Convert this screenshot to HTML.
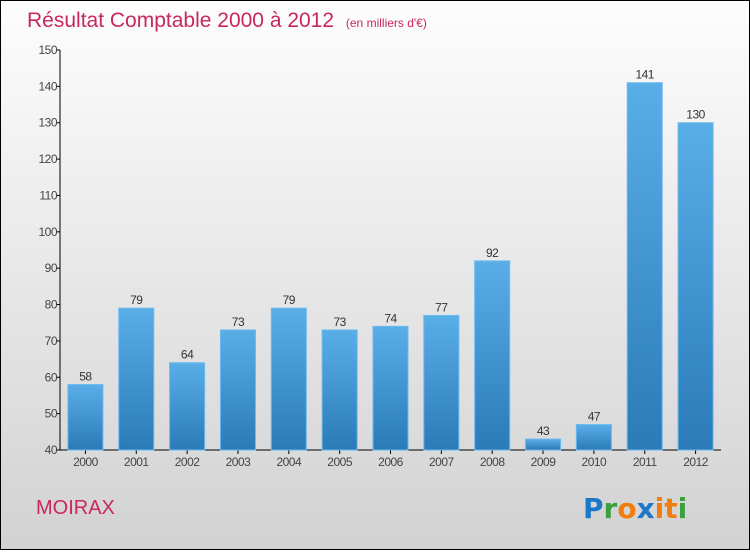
<!DOCTYPE html>
<html><head><meta charset="utf-8"><style>
body{margin:0;width:750px;height:550px;overflow:hidden;font-family:"Liberation Sans",sans-serif}
</style></head><body>
<svg width="750" height="550" xmlns="http://www.w3.org/2000/svg">
<defs>
<linearGradient id="bg" x1="0" y1="0" x2="0" y2="1"><stop offset="0" stop-color="#fdfdfd"/><stop offset="1" stop-color="#d2d2d2"/></linearGradient>
<linearGradient id="bar" x1="0" y1="0" x2="0" y2="1"><stop offset="0" stop-color="#5aaee8"/><stop offset="1" stop-color="#2a7bb8"/></linearGradient>
</defs>
<rect x="0.5" y="0.5" width="749" height="549" fill="url(#bg)" stroke="#000"/>
<text x="27" y="27" font-size="21" fill="#c8285a">Résultat Comptable 2000 à 2012 <tspan font-size="12" dx="6">(en milliers d'€)</tspan></text>
<g id="axes"></g>
<g id="bars"></g>
<text x="36" y="514" font-size="20" fill="#c8285a">MOIRAX</text>
<g font-size="28" font-weight="bold" font-family="'DejaVu Sans',sans-serif">
<text x="583" y="518"><tspan fill="#1e78c8">P</tspan><tspan fill="#3aa040">r</tspan><tspan fill="#f07d10">o</tspan><tspan fill="#1e78c8">x</tspan><tspan fill="#f07d10">i</tspan><tspan fill="#f07d10">t</tspan><tspan fill="#3aa040">i</tspan></text>
</g>
</svg>
<script>
const years=["2000","2001","2002","2003","2004","2005","2006","2007","2008","2009","2010","2011","2012"];
const values=[58,79,64,73,79,73,74,77,92,43,47,141,130];
const yTicks=[40,50,60,70,80,90,100,110,120,130,140,150];
const NS="http://www.w3.org/2000/svg";
const x0=60,x1=721,yMin=40,yMax=150,py0=450,py1=50;
const y=v=>py0-(v-yMin)/(yMax-yMin)*(py0-py1);
const step=(x1-x0)/years.length;
const xc=i=>x0+step*(i+0.5);
function mk(t,a,p){const e=document.createElementNS(NS,t);for(const k in a)e.setAttribute(k,a[k]);p.appendChild(e);return e;}
const ax=document.getElementById('axes'),bs=document.getElementById('bars');
let l=mk('line',{x1:x0,y1:py1,x2:x0,y2:py0,stroke:'#000'},ax);


l=mk('line',{x1:x0,y1:py0,x2:x1,y2:py0,stroke:'#000'},ax);


yTicks.forEach(v=>{
 const tk=mk('line',{x1:x0-4,y1:y(v),x2:x0,y2:y(v),stroke:'#000'},ax);
 
 
 const t=mk('text',{x:x0-3,y:y(v)+4,'font-size':12,fill:'#444','text-anchor':'end','letter-spacing':'-0.5'},ax);
 t.textContent=v;
 
 
});
years.forEach((yr,i)=>{
 const r=mk('rect',{x:xc(i)-17.5,y:y(values[i]),width:35,height:py0-y(values[i]),fill:'url(#bar)',stroke:'#6ab8ee','stroke-width':1},bs);
 
 
 const v=mk('text',{x:xc(i),y:y(values[i])-4,'font-size':12,fill:'#333','text-anchor':'middle','letter-spacing':'-0.5'},bs);
 v.textContent=values[i];
 
 
 const tk=mk('line',{x1:xc(i),y1:py0,x2:xc(i),y2:py0+4,stroke:'#000'},ax);
 
 
 const t=mk('text',{x:xc(i),y:py0+16,'font-size':12,fill:'#444','text-anchor':'middle','letter-spacing':'-0.5'},ax);
 t.textContent=yr;
 
 
});
</script>
</body></html>
